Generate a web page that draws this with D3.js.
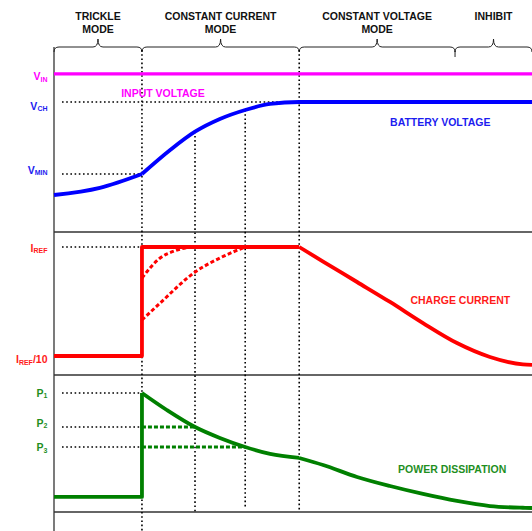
<!DOCTYPE html>
<html>
<head>
<meta charset="utf-8">
<script src="https://cdn.jsdelivr.net/npm/d3@7"></script>
<style>
  body { margin: 0; background: #fff; }
  text { font-family: "Liberation Sans", Arial, sans-serif; font-weight: bold; }
</style>
</head>
<body>
<svg width="532" height="531"></svg>
<script>

/* Daten (Zeit in willkuerlichen Einheiten 0..100) */

var phaseNames = [["TRICKLE", "MODE"], ["CONSTANT CURRENT", "MODE"], ["CONSTANT VOLTAGE", "MODE"], ["INHIBIT"]];
var phaseStart = [0, 18.4, 51.3, 83.9];
var phaseEnd   = [18.4, 51.3, 83.9, 100];

var markTimes = [18.4, 29.5, 40, 51.3];

// Spannung (V)
var vIn = 4.67, vCh = 4.2, vMin = 3.0;
var trickleT = [0, 9.6, 18.4];
var trickleV = [2.65, 2.77, 3.0];
var chargeT  = [18.4, 24.3, 29.5, 34.7, 40, 45.2, 51.3, 100];
var chargeV  = [3.0, 3.4, 3.705, 3.917, 4.067, 4.167, 4.2, 4.2];

// Strom (Anteil von IREF)
var iRef = 1, iTrickle = 0.1;
var ccT = [0, 18.4, 18.4, 51.3];
var ccI = [0.1, 0.1, 1, 1];
var cvT = [51.3, 56.3, 63.4, 70.3, 77.2, 84.3, 91.2, 98.1, 100];
var cvI = [1, 0.88, 0.711, 0.546, 0.372, 0.207, 0.092, 0.03, 0.026];
var dash1T = [18.4, 22.2, 25.3, 28.5];
var dash1I = [0.744, 0.909, 0.969, 1];
var dash2T = [18.4, 22.2, 29.5, 34.7, 40];
var dash2I = [0.397, 0.537, 0.793, 0.909, 1];

// Verlustleistung (Anteil von P1)
var p1 = 1, p2 = 0.704, p3 = 0.53, pTrickle = 0.096;
var stepT = [0, 18.4, 18.4];
var stepP = [pTrickle, pTrickle, p1];
var pwrT  = [18.4, 23.6, 29.5, 34.7, 40, 45.2, 51.3];
var pwrP  = [1, 0.852, 0.704, 0.609, 0.53, 0.47, 0.435];
var tailT = [51.3, 56.3, 63.4, 70.3, 77.2, 84.3, 91.2, 98.1, 100];
var tailP = [0.435, 0.374, 0.27, 0.191, 0.122, 0.061, 0.017, 0.002, 0];


var svg = d3.select("svg");

var x  = d3.scaleLinear().domain([0, 100]).range([54, 532]);
var yV = d3.scaleLinear().domain([vMin, vCh]).range([174, 102]);
var yI = d3.scaleLinear().domain([iTrickle, iRef]).range([356, 247]);
var yP = d3.scaleLinear().domain([0, p1]).range([508, 393]);

var MAGENTA = "#ff00ff", BLUE = "#0000ff", RED = "#ff0000", GREEN = "#008000";
var LBL_BLUE = "#1c1cf0", LBL_RED = "#ff1a1a", LBL_GREEN = "#1f8f1f";

function zip(a, b) { return a.map(function(d, i){ return [d, b[i]]; }); }

function curve(ts, vs, ys, color, w, dash, kind) {
    var line = d3.line()
        .x(function(d){ return x(d[0]); })
        .y(function(d){ return ys(d[1]); })
        .curve(kind || d3.curveMonotoneX);
    svg.append("path")
        .datum(zip(ts, vs))
        .attr("fill", "none")
        .attr("stroke", color)
        .attr("stroke-width", w)
        .attr("stroke-dasharray", dash || null)
        .attr("stroke-linejoin", "round")
        .attr("d", line);
}

function dotted(x1, y1, x2, y2) {
    svg.append("line")
        .attr("x1", x1).attr("y1", y1).attr("x2", x2).attr("y2", y2)
        .attr("stroke", "#000")
        .attr("stroke-width", 1.6)
        .attr("stroke-dasharray", "1.6,2.6");
}

/* Rahmen */
svg.append("line").attr("x1", x(0)).attr("x2", x(0)).attr("y1", 47).attr("y2", 531)
   .attr("stroke", "#222").attr("stroke-width", 1.2);

[232, 375, 512].forEach(function(yy){
    svg.append("line").attr("x1", x(0)).attr("x2", x(100)).attr("y1", yy).attr("y2", yy)
       .attr("stroke", "#333").attr("stroke-width", 1.4);
});

/* Klammern + Modus-Texte */
phaseNames.forEach(function(lines, i){
    var a = x(phaseStart[i]), b = x(phaseEnd[i]), m = (a + b) / 2;
    var yl = 47, yp = 39, ye = 52;
    var p = "M" + a + "," + ye + " Q" + a + "," + yl + " " + (a + 5) + "," + yl +
            " L" + (m - 5) + "," + yl + " Q" + m + "," + yl + " " + m + "," + yp +
            " Q" + m + "," + yl + " " + (m + 5) + "," + yl +
            " L" + (b - 5) + "," + yl + " Q" + b + "," + yl + " " + b + "," + ye;
    svg.append("path").attr("d", p).attr("fill", "none").attr("stroke", "#222").attr("stroke-width", 1);

    lines.forEach(function(s, k){
        svg.append("text")
           .attr("x", m).attr("y", 19.5 + k * 13)
           .attr("text-anchor", "middle")
           .attr("font-size", "10.5px")
           .attr("fill", "#111")
           .text(s);
    });
});
// kleiner Strich zwischen CV und INHIBIT
svg.append("line").attr("x1", x(phaseStart[3])).attr("x2", x(phaseStart[3])).attr("y1", 51).attr("y2", 57)
   .attr("stroke", "#222").attr("stroke-width", 1);

/* gepunktete Hilfslinien */
var x0 = x(0) + 8;
dotted(x0, yV(vCh), x(51.3), yV(vCh));
dotted(x0, yV(vMin), x(18.4), yV(vMin));
dotted(x0, yI(iRef), x(18.4), yI(iRef));
dotted(x0, yP(p1), x(18.4), yP(p1));
dotted(x0, yP(p2), x(18.4), yP(p2));
dotted(x0, yP(p3), x(18.4), yP(p3));

dotted(x(markTimes[0]), 50, x(markTimes[0]), 531);
dotted(x(markTimes[1]), yV(chargeV[chargeT.indexOf(markTimes[1])]), x(markTimes[1]), 512);
dotted(x(markTimes[2]), yV(chargeV[chargeT.indexOf(markTimes[2])]), x(markTimes[2]), 507);
dotted(x(markTimes[3]), 50, x(markTimes[3]), 512);

/* Kurven */
curve([0, 100], [vIn, vIn], yV, MAGENTA, 3.2, null, d3.curveLinear);
curve(trickleT, trickleV, yV, BLUE, 3.8);
curve(chargeT, chargeV, yV, BLUE, 3.8);

curve(dash1T, dash1I, yI, RED, 3, "4,2.4");
curve(dash2T, dash2I, yI, RED, 3, "4,2.4");
curve(ccT, ccI, yI, RED, 3.8, null, d3.curveLinear);
curve(cvT, cvI, yI, RED, 3.8);

curve([18.4, 29.5], [p2, p2], yP, GREEN, 3, "4,2", d3.curveLinear);
curve([18.4, 40], [p3, p3], yP, GREEN, 3, "4,2", d3.curveLinear);
curve(stepT, stepP, yP, GREEN, 3.8, null, d3.curveLinear);
curve(pwrT, pwrP, yP, GREEN, 3.8);
curve(tailT, tailP, yP, GREEN, 3.8);

/* Achsenbeschriftung links */
function leftLabel(main, sub, rest, yy, color) {
    var t = svg.append("text")
        .attr("x", 47.5).attr("y", yy)
        .attr("text-anchor", "end")
        .attr("fill", color)
        .attr("font-size", "10.5px");
    t.append("tspan").text(main);
    t.append("tspan").attr("font-size", "7px").attr("dy", 1.5).text(sub);
    if (rest) t.append("tspan").attr("dy", -1.5).text(rest);
}
leftLabel("V", "IN", null, yV(vIn) + 6.5, MAGENTA);
leftLabel("V", "CH", null, yV(vCh) + 7.5, LBL_BLUE);
leftLabel("V", "MIN", null, yV(vMin) - 0.5, LBL_BLUE);
leftLabel("I", "REF", null, yI(iRef) + 4.5, LBL_RED);
leftLabel("I", "REF", "/10", yI(iTrickle) + 7, LBL_RED);
leftLabel("P", "1", null, yP(p1) + 3.5, LBL_GREEN);
leftLabel("P", "2", null, yP(p2) - 0.5, LBL_GREEN);
leftLabel("P", "3", null, yP(p3) + 4, LBL_GREEN);

/* Kurvennamen */
var names = [
    ["INPUT VOLTAGE", x(22.8), 97, MAGENTA],
    ["BATTERY VOLTAGE", x(80.8), 126, LBL_BLUE],
    ["CHARGE CURRENT", x(85), 304, LBL_RED],
    ["POWER DISSIPATION", x(83.3), 473, LBL_GREEN]
];
names.forEach(function(n){
    svg.append("text")
       .attr("x", n[1]).attr("y", n[2])
       .attr("text-anchor", "middle")
       .attr("font-size", "10.5px")
       .attr("fill", n[3])
       .text(n[0]);
});

</script>
</body>
</html>
